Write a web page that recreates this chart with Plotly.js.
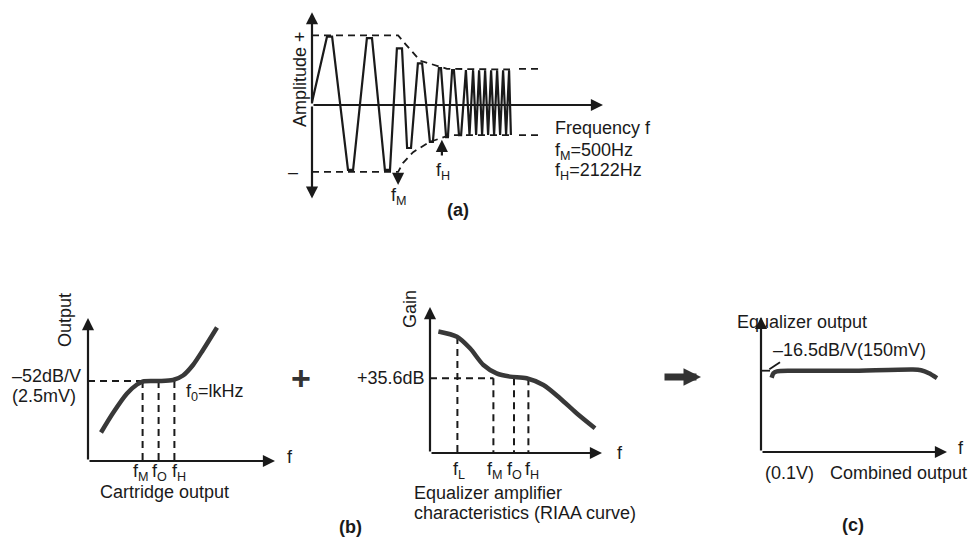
<!DOCTYPE html>
<html><head><meta charset="utf-8">
<script src="https://cdn.plot.ly/plotly-3.0.1.min.js"></script>
<style>html,body{margin:0;padding:0;background:#fff;}#chart{width:970px;height:538px;}</style>
</head><body><div id="chart"></div>
<script>
// ---------- (a) recorded waveform: amplitude vs. frequency ----------
const waveFreq = [0,5,6.7,12,13.7,18.3,20,24.3,26,28.3,30,31.7,33,35.3,36.7,39.3,40.3,42.3,43,44.7,45.3,46.7,47.3,49,49.7,
  51.3,52.5,53.7,54.7,55.7,56.7,57.7,58.7,59.7,60.7,61.7,62.7,63.7,64.7,65.7,66.3];
const waveAmp = [0.04,1,1,-0.95,-0.95,0.98,0.98,-0.95,-0.95,0.83,0.83,-0.63,-0.63,0.61,0.61,-0.54,-0.54,0.54,0.54,-0.47,-0.47,0.51,0.51,-0.44,-0.44,
  0.51,-0.44,0.51,-0.44,0.51,-0.44,0.51,-0.44,0.51,-0.44,0.51,-0.44,0.51,-0.44,0.51,-0.44];
const envUpFreq = [0,28.7,31,36,45,66,null,69,76];
const envUpAmp  = [1.02,1.02,0.9,0.65,0.53,0.52,null,0.53,0.53];
const envLoFreq = [0,28.7,30.3,33.7,39.3,46,66,null,69,76];
const envLoAmp  = [-0.98,-0.98,-0.85,-0.69,-0.54,-0.44,-0.44,null,-0.44,-0.44];
const fMarkA = {fM:28.7, fH:43.3};

// ---------- (b) cartridge output ----------
const cartFreq = [0.65,1.25,1.95,2.45,2.75,3.5,4.25,4.75,5.25,5.75,6.45];
const cartOut  = [1.9,3.2,4.5,5.1,5.3,5.33,5.4,5.7,6.4,7.4,8.9];
const cartLevel = 5.33;
const cartMarks = [2.73,3.53,4.32];
const cartMarkLabels = ['f<sub>M</sub>','f<sub>O</sub>','f<sub>H</sub>'];

// ---------- (b) equalizer amplifier (RIAA) ----------
const riaaFreq = [0.42,1.35,2.0,2.67,3.33,4.0,4.83,5.67,6.5,7.33,8.25];
const riaaGain = [8.1,7.75,6.98,5.87,5.31,5.09,4.98,4.53,3.65,2.65,1.65];
const riaaLevel = 4.98;
const riaaMarks = [1.37,3.17,4.2,4.92];
const riaaMarkTops = [7.73,4.98,4.98,4.98];
const riaaMarkLabels = ['f<sub>L</sub>','f<sub>M</sub>','f<sub>O</sub>','f<sub>H</sub>'];

// ---------- (c) combined output ----------
const combFreq = [0.53,0.62,0.8,1.45,4.45,7.6,8.0,8.4,8.8];
const combOut  = [4.95,5.25,5.38,5.42,5.42,5.5,5.45,5.25,4.93];
const leadFreq = [0.95,0.42,null,0,0.45];
const leadOut  = [5.98,5.51,null,5.42,5.42];

// ---------- helpers ----------
const W=970,H=538;
const PX = x => x/W, PY = y => 1-y/H;
const INK='#1a1a1a', CURVE='#383838';
const FONT='"Liberation Sans", Arial, Helvetica, sans-serif';
const DASH='7px,5px';

function vlines(xs, tops){const X=[],Y=[];xs.forEach((x,i)=>{X.push(x,x,null);Y.push(tops[i],0,null);});return {X,Y};}
const cartV = vlines(cartMarks, cartMarks.map(()=>cartLevel));
const riaaV = vlines(riaaMarks, riaaMarkTops);

const traces = [
  {x:waveFreq,y:waveAmp,xaxis:'x',yaxis:'y',mode:'lines',line:{color:INK,width:2.2}},
  {x:envUpFreq,y:envUpAmp,xaxis:'x',yaxis:'y',mode:'lines',line:{color:INK,width:1.8,dash:DASH}},
  {x:envLoFreq,y:envLoAmp,xaxis:'x',yaxis:'y',mode:'lines',line:{color:INK,width:1.8,dash:DASH}},

  {x:[0,cartMarks[0]],y:[cartLevel,cartLevel],xaxis:'x2',yaxis:'y2',mode:'lines',line:{color:INK,width:2,dash:DASH}},
  {x:cartV.X,y:cartV.Y,xaxis:'x2',yaxis:'y2',mode:'lines',line:{color:INK,width:2,dash:DASH}},
  {x:cartFreq,y:cartOut,xaxis:'x2',yaxis:'y2',mode:'lines',line:{color:CURVE,width:4.5,shape:'spline',smoothing:0.8}},

  {x:[0,riaaMarks[1]],y:[riaaLevel,riaaLevel],xaxis:'x3',yaxis:'y3',mode:'lines',line:{color:INK,width:2,dash:DASH}},
  {x:riaaV.X,y:riaaV.Y,xaxis:'x3',yaxis:'y3',mode:'lines',line:{color:INK,width:2,dash:DASH}},
  {x:riaaFreq,y:riaaGain,xaxis:'x3',yaxis:'y3',mode:'lines',line:{color:CURVE,width:4.5,shape:'spline',smoothing:0.8}},

  {x:combFreq,y:combOut,xaxis:'x4',yaxis:'y4',mode:'lines',line:{color:CURVE,width:4.5,shape:'spline',smoothing:0.6}},
  {x:leadFreq,y:leadOut,xaxis:'x4',yaxis:'y4',mode:'lines',line:{color:INK,width:1.8}}
];

function ax(o){return Object.assign({visible:false,fixedrange:true,showgrid:false,zeroline:false},o);}
function axisArrow(xr,yr,x0,y0,x1,y1){
  return {xref:xr,yref:yr,axref:xr,ayref:yr,x:x1,y:y1,ax:x0,ay:y0,text:'',showarrow:true,
          arrowhead:2,arrowsize:1.1,arrowwidth:2.2,arrowcolor:INK,standoff:0,startstandoff:0};
}
function T(text,x,y,opt){
  return Object.assign({xref:'paper',yref:'paper',x:PX(x),y:PY(y),text:text,showarrow:false,
    xanchor:'center',yanchor:'middle',font:{family:FONT,size:18,color:INK}},opt||{});
}

const ann = [
  // axes (a)
  axisArrow('x','y',0,0,0,1.36), axisArrow('x','y',0,0,0,-1.37), axisArrow('x','y',0,0,97,0),
  axisArrow('x','y',fMarkA.fM,-0.98,fMarkA.fM,-1.17),
  axisArrow('x','y',fMarkA.fH,-0.76,fMarkA.fH,-0.51),
  // axes (b1)
  axisArrow('x2','y2',0,0,0,9.53), axisArrow('x2','y2',0,0,9.35,0),
  // axes (b2)
  axisArrow('x3','y3',0,0,0,9.73), axisArrow('x3','y3',0,0,8.6,0),
  // axes (c)
  axisArrow('x4','y4',0,0,0,9.0), axisArrow('x4','y4',0,0,9.3,0),
  // big arrow
  {xref:'paper',yref:'paper',x:PX(701),y:PY(377),ax:-38,ay:0,text:'',showarrow:true,arrowhead:2,arrowsize:0.5,arrowwidth:7,arrowcolor:'#333',standoff:0},

  // texts (a)
  T('Amplitude +',300,79,{textangle:-90}),
  T('–',293,172),
  T('Frequency f',553,128,{xanchor:'left'}),
  T('f<sub>M</sub>=500Hz',553,151,{xanchor:'left'}),
  T('f<sub>H</sub>=2122Hz',553,172,{xanchor:'left'}),
  T('f<sub>M</sub>',399,196),
  T('f<sub>H</sub>',443,172),
  T('<b>(a)</b>',458,210,{font:{family:FONT,size:18,color:INK}}),

  // texts (b1)
  T('Output',65,320,{textangle:-90}),
  T('–52dB/V',10,376,{xanchor:'left'}),
  T('(2.5mV)',10,396,{xanchor:'left'}),
  T('f<sub>0</sub>=lkHz',184,392,{xanchor:'left'}),
  T('f',290,457),
  T('Cartridge output',164,492),
  T('<b>+</b>',301,378,{font:{family:FONT,size:34,color:'#333'}}),

  // texts (b2)
  T('Gain',410,309,{textangle:-90}),
  T('+35.6dB',427,378,{xanchor:'right'}),
  T('f',620,453),
  T('Equalizer amplifier',412,493,{xanchor:'left'}),
  T('characteristics (RIAA curve)',412,513,{xanchor:'left'}),
  T('<b>(b)</b>',350,527,{font:{family:FONT,size:18,color:INK}}),

  // texts (c)
  T('Equalizer output',735,322,{xanchor:'left'}),
  T('–16.5dB/V(150mV)',771,350,{xanchor:'left'}),
  T('f',961,448),
  T('(0.1V)',763,473,{xanchor:'left'}),
  T('Combined output',828,473,{xanchor:'left'}),
  T('<b>(c)</b>',853,525,{font:{family:FONT,size:18,color:INK}})
];
const cartShift = [-2,1,5];
const riaaShift = [2,2,0,4];
cartMarks.forEach((m,i)=>ann.push({xref:'x2',yref:'paper',x:m,y:PY(472),text:cartMarkLabels[i],showarrow:false,
  xanchor:'center',yanchor:'middle',xshift:cartShift[i],font:{family:FONT,size:18,color:INK}}));
riaaMarks.forEach((m,i)=>ann.push({xref:'x3',yref:'paper',x:m,y:PY(470),text:riaaMarkLabels[i],showarrow:false,
  xanchor:'center',yanchor:'middle',xshift:riaaShift[i],font:{family:FONT,size:18,color:INK}}));

const layout = {
  width:W,height:H,margin:{l:0,r:0,t:0,b:0},paper_bgcolor:'#fff',plot_bgcolor:'rgba(0,0,0,0)',
  showlegend:false,font:{family:FONT,color:INK},
  xaxis: ax({domain:[PX(300),PX(618)],range:[-4,102],anchor:'y'}),
  yaxis: ax({domain:[PY(204),PY(6)],range:[-1.45,1.45],anchor:'x'}),
  xaxis2:ax({domain:[PX(68),PX(308)],range:[-1,11],anchor:'y2'}),
  yaxis2:ax({domain:[PY(476),PY(311)],range:[-1,10],anchor:'x2'}),
  xaxis3:ax({domain:[PX(410),PX(630)],range:[-1,10],anchor:'y3'}),
  yaxis3:ax({domain:[PY(468),PY(303)],range:[-1,10],anchor:'x3'}),
  xaxis4:ax({domain:[PX(741),PX(969)],range:[-1,10.4],anchor:'y4'}),
  yaxis4:ax({domain:[PY(467),PY(302)],range:[-1,10],anchor:'x4'}),
  annotations:ann
};
Plotly.newPlot('chart',traces,layout,{staticPlot:true,displayModeBar:false});
</script></body></html>
